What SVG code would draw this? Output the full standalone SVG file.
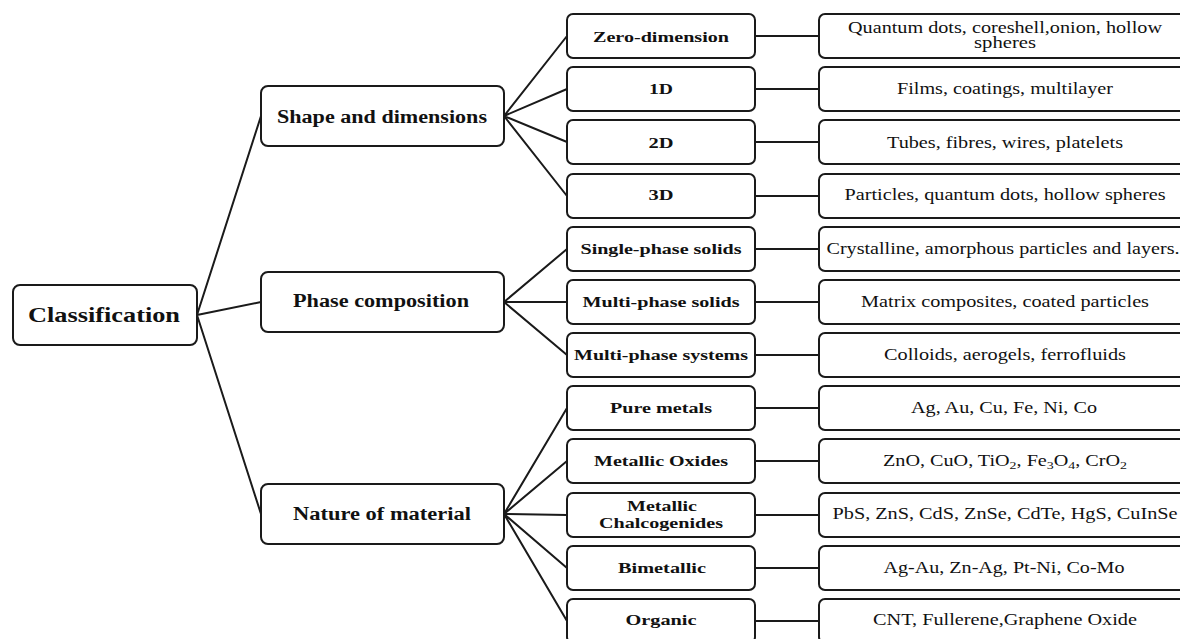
<svg xmlns="http://www.w3.org/2000/svg" width="1180" height="639" viewBox="0 0 1180 639">
<style>
.box{fill:#fff;stroke:#1a1a1a;stroke-width:2}
.lk{stroke:#1a1a1a;stroke-width:2;fill:none}
text{font-family:"Liberation Serif","Times New Roman",serif;fill:#111;text-anchor:middle}
.t0{font-size:21px;font-weight:bold}
.t1{font-size:18px;font-weight:bold}
.t2{font-size:15.5px;font-weight:bold}
.t3{font-size:16px}
</style>
<rect width="1180" height="639" fill="#fff"/>
<g id="connectors">
<path class="lk" d="M197 315L261 116M197 315L261 302M197 315L261 514"/>
<path class="lk" d="M504 116L567 36M504 116L567 89M504 116L567 142M504 116L567 196"/>
<path class="lk" d="M504 302L567 249M504 302L567 302M504 302L567 355"/>
<path class="lk" d="M504 514L567 408M504 514L567 461M504 514L567 515M504 514L567 568M504 514L567 621"/>
<path class="lk" d="M755 36H819M755 89H819M755 142H819M755 196H819M755 249H819M755 302H819M755 355H819M755 408H819M755 461H819M755 515H819M755 568H819M755 621H819"/>
</g>
<g id="n-classification"><rect class="box" x="13" y="285" width="184" height="60" rx="7"/><text class="t0" x="104" y="322" textLength="152" lengthAdjust="spacingAndGlyphs">Classification</text></g>
<g id="n-shape"><rect class="box" x="261" y="86" width="243" height="60" rx="7"/><text class="t1" x="382" y="123" textLength="210" lengthAdjust="spacingAndGlyphs">Shape and dimensions</text></g>
<g id="n-phase"><rect class="box" x="261" y="272" width="243" height="60" rx="7"/><text class="t1" x="381" y="307" textLength="176" lengthAdjust="spacingAndGlyphs">Phase composition</text></g>
<g id="n-nature"><rect class="box" x="261" y="484" width="243" height="60" rx="7"/><text class="t1" x="382" y="520" textLength="178" lengthAdjust="spacingAndGlyphs">Nature of material</text></g>

<g id="n-zero"><rect class="box" x="567" y="14" width="188" height="44" rx="6"/><text class="t2" x="661" y="42" textLength="136" lengthAdjust="spacingAndGlyphs">Zero-dimension</text></g>
<g id="n-1d"><rect class="box" x="567" y="67" width="188" height="44" rx="6"/><text class="t2" x="661" y="94" textLength="24" lengthAdjust="spacingAndGlyphs">1D</text></g>
<g id="n-2d"><rect class="box" x="567" y="120" width="188" height="44" rx="6"/><text class="t2" x="661" y="148" textLength="25" lengthAdjust="spacingAndGlyphs">2D</text></g>
<g id="n-3d"><rect class="box" x="567" y="174" width="188" height="44" rx="6"/><text class="t2" x="661" y="200" textLength="25" lengthAdjust="spacingAndGlyphs">3D</text></g>
<g id="n-single"><rect class="box" x="567" y="227" width="188" height="44" rx="6"/><text class="t2" x="661" y="254" textLength="161" lengthAdjust="spacingAndGlyphs">Single-phase solids</text></g>
<g id="n-multisolid"><rect class="box" x="567" y="280" width="188" height="44" rx="6"/><text class="t2" x="661" y="307" textLength="157" lengthAdjust="spacingAndGlyphs">Multi-phase solids</text></g>
<g id="n-multisys"><rect class="box" x="567" y="333" width="188" height="44" rx="6"/><text class="t2" x="661" y="360" textLength="174" lengthAdjust="spacingAndGlyphs">Multi-phase systems</text></g>
<g id="n-pure"><rect class="box" x="567" y="386" width="188" height="44" rx="6"/><text class="t2" x="661" y="413" textLength="102" lengthAdjust="spacingAndGlyphs">Pure metals</text></g>
<g id="n-oxides"><rect class="box" x="567" y="439" width="188" height="44" rx="6"/><text class="t2" x="661" y="466" textLength="134" lengthAdjust="spacingAndGlyphs">Metallic Oxides</text></g>
<g id="n-chalc"><rect class="box" x="567" y="493" width="188" height="44" rx="6"/><text class="t2" x="662" y="511" textLength="70" lengthAdjust="spacingAndGlyphs">Metallic</text><text class="t2" x="661" y="528" textLength="124" lengthAdjust="spacingAndGlyphs">Chalcogenides</text></g>
<g id="n-bimetallic"><rect class="box" x="567" y="546" width="188" height="44" rx="6"/><text class="t2" x="662" y="573" textLength="88" lengthAdjust="spacingAndGlyphs">Bimetallic</text></g>
<g id="n-organic"><rect class="box" x="567" y="599" width="188" height="44" rx="6"/><text class="t2" x="661" y="625" textLength="71" lengthAdjust="spacingAndGlyphs">Organic</text></g>

<g id="d-zero"><rect class="box" x="819" y="14" width="372" height="44" rx="6"/><text class="t3" x="1005" y="33" textLength="314" lengthAdjust="spacingAndGlyphs">Quantum dots, coreshell,onion, hollow</text><text class="t3" x="1005" y="48" textLength="62" lengthAdjust="spacingAndGlyphs">spheres</text></g>
<g id="d-1d"><rect class="box" x="819" y="67" width="372" height="44" rx="6"/><text class="t3" x="1005" y="94" textLength="216" lengthAdjust="spacingAndGlyphs">Films, coatings, multilayer</text></g>
<g id="d-2d"><rect class="box" x="819" y="120" width="372" height="44" rx="6"/><text class="t3" x="1005" y="148" textLength="236" lengthAdjust="spacingAndGlyphs">Tubes, fibres, wires, platelets</text></g>
<g id="d-3d"><rect class="box" x="819" y="174" width="372" height="44" rx="6"/><text class="t3" x="1005" y="200" textLength="321" lengthAdjust="spacingAndGlyphs">Particles, quantum dots, hollow spheres</text></g>
<g id="d-single"><rect class="box" x="819" y="227" width="372" height="44" rx="6"/><text class="t3" x="1003" y="254" textLength="353" lengthAdjust="spacingAndGlyphs">Crystalline, amorphous particles and layers.</text></g>
<g id="d-multisolid"><rect class="box" x="819" y="280" width="372" height="44" rx="6"/><text class="t3" x="1005" y="307" textLength="288" lengthAdjust="spacingAndGlyphs">Matrix composites, coated particles</text></g>
<g id="d-multisys"><rect class="box" x="819" y="333" width="372" height="44" rx="6"/><text class="t3" x="1005" y="360" textLength="242" lengthAdjust="spacingAndGlyphs">Colloids, aerogels, ferrofluids</text></g>
<g id="d-pure"><rect class="box" x="819" y="386" width="372" height="44" rx="6"/><text class="t3" x="1004" y="413" textLength="186" lengthAdjust="spacingAndGlyphs">Ag, Au, Cu, Fe, Ni, Co</text></g>
<g id="d-oxides"><rect class="box" x="819" y="439" width="372" height="44" rx="6"/><text class="t3" x="1005" y="466" textLength="244" lengthAdjust="spacingAndGlyphs">ZnO, CuO, TiO<tspan font-size="11" dy="3">2</tspan><tspan dy="-3">, Fe</tspan><tspan font-size="11" dy="3">3</tspan><tspan dy="-3">O</tspan><tspan font-size="11" dy="3">4</tspan><tspan dy="-3">, CrO</tspan><tspan font-size="11" dy="3">2</tspan></text></g>
<g id="d-chalc"><rect class="box" x="819" y="493" width="372" height="44" rx="6"/><text class="t3" x="1005" y="519" textLength="345" lengthAdjust="spacingAndGlyphs">PbS, ZnS, CdS, ZnSe, CdTe, HgS, CuInSe</text></g>
<g id="d-bimetallic"><rect class="box" x="819" y="546" width="372" height="44" rx="6"/><text class="t3" x="1004" y="573" textLength="241" lengthAdjust="spacingAndGlyphs">Ag-Au, Zn-Ag, Pt-Ni, Co-Mo</text></g>
<g id="d-organic"><rect class="box" x="819" y="599" width="372" height="44" rx="6"/><text class="t3" x="1005" y="625" textLength="264" lengthAdjust="spacingAndGlyphs">CNT, Fullerene,Graphene Oxide</text></g>
</svg>
